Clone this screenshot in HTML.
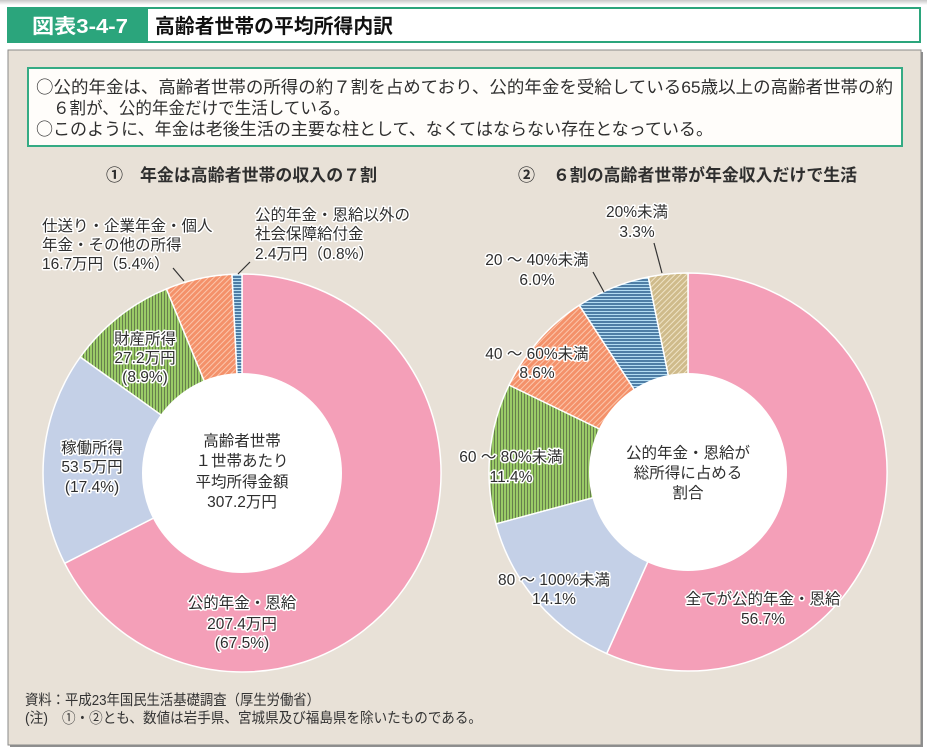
<!DOCTYPE html>
<html>
<head>
<meta charset="utf-8">
<style>
html,body{margin:0;padding:0;background:#ffffff;}
svg{display:block;}
text{font-family:"Liberation Sans","Noto Sans CJK JP",sans-serif;fill:#2e2e2e;}
.cjk{font-family:"Noto Sans CJK JP",sans-serif;}
.lbl{font-size:15.5px;stroke:#ffffff;stroke-width:3px;paint-order:stroke;stroke-linejoin:round;}
.ctr{font-size:15.5px;}
</style>
</head>
<body>
<svg width="927" height="753" viewBox="0 0 927 753" xmlns="http://www.w3.org/2000/svg">
<defs>
  <pattern id="pGreen" width="3" height="3" patternUnits="userSpaceOnUse">
    <rect width="3" height="3" fill="#9acb67"/>
    <rect x="2" width="1" height="3" fill="#667f4c"/>
  </pattern>
  <pattern id="pOrange" width="4" height="4" patternUnits="userSpaceOnUse" patternTransform="rotate(45)">
    <rect width="4" height="4" fill="#f4916a"/>
    <rect x="3" width="1" height="4" fill="#fbc6ac"/>
  </pattern>
  <pattern id="pBlue" width="3" height="3" patternUnits="userSpaceOnUse">
    <rect width="3" height="3" fill="#4f7ea6"/>
    <rect y="2" width="3" height="1" fill="#b4dcf2"/>
  </pattern>
  <pattern id="pTan" width="4" height="4" patternUnits="userSpaceOnUse" patternTransform="rotate(45)">
    <rect width="4" height="4" fill="#cfbb8b"/>
    <rect x="3" width="1" height="4" fill="#efe3c6"/>
  </pattern>
  <linearGradient id="topg" x1="0" y1="0" x2="0" y2="1">
    <stop offset="0" stop-color="#c8c8c8"/>
    <stop offset="1" stop-color="#ffffff"/>
  </linearGradient>
</defs>

<!-- top shadow strip -->
<rect x="0" y="0" width="927" height="5" fill="url(#topg)"/>

<!-- header -->
<rect x="7" y="7" width="140" height="36" fill="#2ba57c"/>
<rect x="147" y="8" width="773" height="34" fill="#ffffff" stroke="#2ba57c" stroke-width="2"/>
<text x="32" y="33" style="font-size:20px;font-weight:bold;fill:#ffffff;" textLength="96" lengthAdjust="spacingAndGlyphs">図表3-4-7</text>
<text x="155" y="33" style="font-size:20px;font-weight:bold;fill:#111;" textLength="238" lengthAdjust="spacingAndGlyphs">高齢者世帯の平均所得内訳</text>

<!-- main panel -->
<rect x="10" y="52" width="913" height="695" fill="#8f8f8f"/>
<rect x="8" y="50" width="913" height="695" fill="#e8e1d7" stroke="#8a8a8a" stroke-width="1"/>

<!-- summary box -->
<rect x="28" y="68" width="874" height="78" fill="#fffdfa" stroke="#35ab84" stroke-width="2"/>
<text x="36" y="93" style="font-size:17px;" textLength="857" lengthAdjust="spacingAndGlyphs"><tspan class="cjk">○</tspan>公的年金は、高齢者世帯の所得の約７割を占めており、公的年金を受給している65歳以上の高齢者世帯の約</text>
<text x="53" y="114" style="font-size:17px;" textLength="297" lengthAdjust="spacingAndGlyphs">６割が、公的年金だけで生活している。</text>
<text x="36" y="135" style="font-size:17px;" textLength="677" lengthAdjust="spacingAndGlyphs"><tspan class="cjk">○</tspan>このように、年金は老後生活の主要な柱として、なくてはならない存在となっている。</text>

<!-- subtitles -->
<text x="106" y="181" style="font-size:17px;font-weight:bold;">①</text>
<text x="140" y="181" style="font-size:17px;font-weight:bold;" textLength="237" lengthAdjust="spacingAndGlyphs">年金は高齢者世帯の収入の７割</text>
<text x="518" y="181" style="font-size:17px;font-weight:bold;">②</text>
<text x="553" y="181" style="font-size:17px;font-weight:bold;" textLength="304" lengthAdjust="spacingAndGlyphs">６割の高齢者世帯が年金収入だけで生活</text>

<!-- LEFT DONUT: center (242,473) R=199 r=100 -->
<g stroke="#ffffff" stroke-width="1.5" stroke-linejoin="round">
  <path d="M242,473 L242,274 A199,199 0 1 1 64.7,563.3 Z" fill="#f49fb8"/>
  <path d="M242,473 L64.7,563.3 A199,199 0 0 1 80.3,357 Z" fill="#c4d0e7"/>
  <path d="M242,473 L80.3,357 A199,199 0 0 1 166.4,288.9 Z" fill="url(#pGreen)"/>
  <path d="M242,473 L166.4,288.9 A199,199 0 0 1 232,274.25 Z" fill="url(#pOrange)"/>
  <path d="M242,473 L232,274.25 A199,199 0 0 1 242,274 Z" fill="url(#pBlue)"/>
</g>
<circle cx="242" cy="473" r="100" fill="#ffffff"/>

<!-- RIGHT DONUT: center (688,472) R=199 r=99 -->
<g stroke="#ffffff" stroke-width="1.5" stroke-linejoin="round">
  <path d="M688,472 L688,273 A199,199 0 1 1 606.7,653.6 Z" fill="#f49fb8"/>
  <path d="M688,472 L606.7,653.6 A199,199 0 0 1 495.9,523.9 Z" fill="#c4d0e7"/>
  <path d="M688,472 L495.9,523.9 A199,199 0 0 1 509,385 Z" fill="url(#pGreen)"/>
  <path d="M688,472 L509,385 A199,199 0 0 1 579.3,305.3 Z" fill="url(#pOrange)"/>
  <path d="M688,472 L579.3,305.3 A199,199 0 0 1 648.3,277 Z" fill="url(#pBlue)"/>
  <path d="M688,472 L648.3,277 A199,199 0 0 1 688,273 Z" fill="url(#pTan)"/>
</g>
<circle cx="688" cy="472" r="99" fill="#ffffff"/>

<!-- leader lines -->
<g stroke="#333" stroke-width="1.2">
  <line x1="173" y1="268" x2="184" y2="281"/>
  <line x1="250" y1="262" x2="238" y2="274"/>
  <line x1="654" y1="243" x2="662" y2="273"/>
  <line x1="593" y1="272" x2="604" y2="292"/>
</g>

<!-- LEFT labels -->
<text class="lbl" x="42" y="231">仕送り・企業年金・個人</text>
<text class="lbl" x="42" y="250">年金・その他の所得</text>
<text class="lbl" x="42" y="269">16.7万円（5.4%）</text>

<text class="lbl" x="255" y="220">公的年金・恩給以外の</text>
<text class="lbl" x="255" y="239">社会保障給付金</text>
<text class="lbl" x="255" y="259">2.4万円（0.8%）</text>

<g text-anchor="middle">
  <text class="lbl" x="145" y="344">財産所得</text>
  <text class="lbl" x="145" y="363">27.2万円</text>
  <text class="lbl" x="145" y="382">(8.9%)</text>

  <text class="lbl" x="92" y="453">稼働所得</text>
  <text class="lbl" x="92" y="472">53.5万円</text>
  <text class="lbl" x="92" y="492">(17.4%)</text>

  <text class="ctr" x="242" y="446">高齢者世帯</text>
  <text class="ctr" x="242" y="466">１世帯あたり</text>
  <text class="ctr" x="242" y="487">平均所得金額</text>
  <text class="ctr" x="242" y="507">307.2万円</text>

  <text class="lbl" x="242" y="608">公的年金・恩給</text>
  <text class="lbl" x="242" y="629">207.4万円</text>
  <text class="lbl" x="242" y="648">(67.5%)</text>

  <!-- RIGHT labels -->
  <text class="lbl" x="637" y="217">20%未満</text>
  <text class="lbl" x="637" y="237">3.3%</text>

  <text class="lbl" x="537" y="265">20 ～ 40%未満</text>
  <text class="lbl" x="537" y="285">6.0%</text>

  <text class="lbl" x="537" y="359">40 ～ 60%未満</text>
  <text class="lbl" x="537" y="378">8.6%</text>

  <text class="lbl" x="511" y="462">60 ～ 80%未満</text>
  <text class="lbl" x="511" y="482">11.4%</text>

  <text class="lbl" x="554" y="585">80 ～ 100%未満</text>
  <text class="lbl" x="554" y="604">14.1%</text>

  <text class="lbl" x="763" y="604">全てが公的年金・恩給</text>
  <text class="lbl" x="763" y="624">56.7%</text>

  <text class="ctr" x="688" y="458">公的年金・恩給が</text>
  <text class="ctr" x="688" y="478">総所得に占める</text>
  <text class="ctr" x="688" y="498">割合</text>
</g>

<!-- footer -->
<text x="25" y="705" style="font-size:14.5px;fill:#333;" textLength="295" lengthAdjust="spacingAndGlyphs">資料：平成23年国民生活基礎調査（厚生労働省）</text>
<text x="25" y="723" style="font-size:14.5px;fill:#333;" textLength="23" lengthAdjust="spacingAndGlyphs">(注)</text>
<text x="62" y="723" style="font-size:14.5px;fill:#333;" textLength="420" lengthAdjust="spacingAndGlyphs">①・②とも、数値は岩手県、宮城県及び福島県を除いたものである。</text>
</svg>
</body>
</html>
